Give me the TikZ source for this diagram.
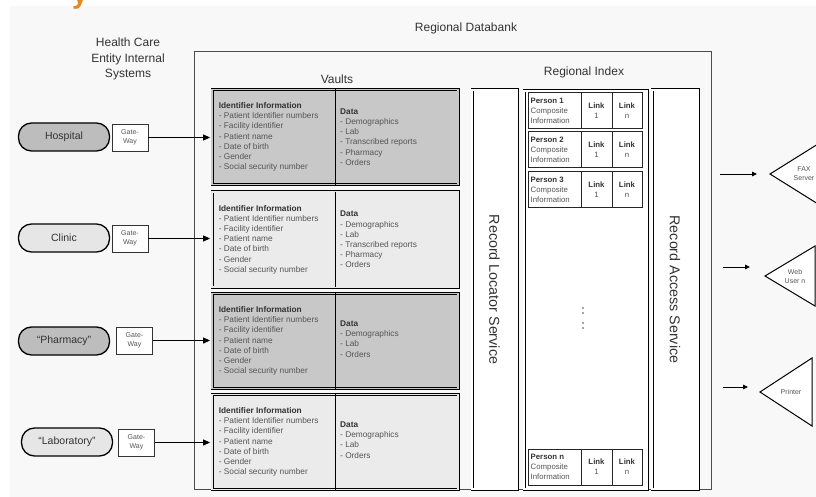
\documentclass[tikz,border=0pt]{standalone}
\usepackage{fontspec}
\setmainfont{Liberation Sans}
\usetikzlibrary{arrows.meta,calc}
\definecolor{bgc}{HTML}{F8F8F8}
\definecolor{vdark}{HTML}{C8C8C8}
\definecolor{vlight}{HTML}{EBEBEB}
\definecolor{odark}{HTML}{BDBDBD}
\definecolor{olight}{HTML}{E6E6E6}
\definecolor{txt}{HTML}{333333}
\definecolor{txtl}{HTML}{555555}
\definecolor{orng}{HTML}{E8891E}
\begin{document}
\begin{tikzpicture}[x=1pt,y=-1pt,
  dbl/.style={draw=black, line width=0.8pt, double distance=1.4pt},
  vault/.style={dbl, minimum width=246pt, minimum height=95pt, inner sep=0pt},
  oval/.style={draw=black, line width=1.3pt, rounded corners=13pt, minimum width=91pt, minimum height=28pt, font=\fontsize{10.5}{12}\selectfont, text=txt},
  gate/.style={draw=black!80, line width=0.6pt, fill=white, minimum width=36pt, minimum height=27pt, inner sep=0pt, align=center, font=\fontsize{7}{8.5}\selectfont, text=txtl},
  vtext/.style={anchor=west, align=left, font=\fontsize{8.3}{10.2}\selectfont, text=txtl, inner sep=0pt},
  head/.style={font=\fontsize{12}{15.5}\selectfont, text=txt, align=center},
  conn/.style={line width=1.1pt, -{Triangle[length=7pt,width=6pt]}, shorten >=1.5pt},
  sconn/.style={line width=0.9pt, -{Triangle[length=5pt,width=4.5pt]}},
  cell/.style={draw=black!85, line width=1pt, fill=white, inner sep=0pt},
  ctext/.style={font=\fontsize{7.8}{10}\selectfont, text=txtl, align=left, inner sep=0pt, anchor=west},
  ltext/.style={font=\fontsize{7.8}{10}\selectfont, text=txtl, align=center, inner sep=0pt},
  tri/.style={draw=black, line width=1pt, fill=white},
  ttext/.style={font=\fontsize{7}{9}\selectfont, text=txtl, align=center, inner sep=0pt},
  vert/.style={rotate=-90, font=\fontsize{14.3}{16}\selectfont, text=txt},
]
\useasboundingbox (0,0) rectangle (816,497);
\begin{scope}
\clip (0,0) rectangle (816,497);
\fill[bgc] (10,6) rectangle (816,497);
\node[text=orng, font=\fontsize{28}{28}\selectfont\bfseries, anchor=base] (ttl) at (80,4) {y};

% headings
\node[head] (hce) at (128,59) {Health Care\\Entity Internal\\Systems};
\node[head] (rdt) at (466,28) {Regional Databank};
\node[draw=black!70, line width=0.9pt, minimum width=517pt, minimum height=438pt, inner sep=0pt] (db) at (452.5,270) {};
\node[head] (vlt) at (337,79) {Vaults};
\node[head] (rit) at (584,72) {Regional Index};

% vaults
\node[vault, fill=vdark, double=vdark] (v1) at (335,137) {};
\node[vault, fill=vlight, double=vlight] (v2) at (335,239.5) {};
\node[vault, fill=vdark, double=vdark] (v3) at (335,341) {};
\node[vault, fill=vlight, double=vlight] (v4) at (335,442) {};
\foreach \v in {v1,v2,v3,v4}{
  \draw[line width=1pt] (\v.north) -- (\v.south);
  \node[vtext] (\v id) at ($(\v.west)+(7,0)$) {{\color{txt}\bfseries Identifier Information}\\- Patient Identifier numbers\\- Facility identifier\\- Patient name\\- Date of birth\\- Gender\\- Social security number};
}
\node[vtext] (v1d) at (340,137) {{\color{txt}\bfseries Data}\\- Demographics\\- Lab\\- Transcribed reports\\- Pharmacy\\- Orders};
\node[vtext] (v2d) at (340,239.5) {{\color{txt}\bfseries Data}\\- Demographics\\- Lab\\- Transcribed reports\\- Pharmacy\\- Orders};
\node[vtext] (v3d) at (340,339) {{\color{txt}\bfseries Data}\\- Demographics\\- Lab\\- Orders};
\node[vtext] (v4d) at (340,440) {{\color{txt}\bfseries Data}\\- Demographics\\- Lab\\- Orders};

% sources
\node[oval, fill=odark] (o1) at (64,137) {Hospital};
\node[oval, fill=olight] (o2) at (64,238) {Clinic};
\node[oval, fill=odark] (o3) at (64,341) {``Pharmacy''};
\node[oval, fill=olight] (o4) at (67,442) {``Laboratory''};
\node[gate] (g1) at (130,137.5) {Gate-\\Way};
\node[gate] (g2) at (130,238.5) {Gate-\\Way};
\node[gate] (g3) at (134.5,340.5) {Gate-\\Way};
\node[gate] (g4) at (136.5,442.5) {Gate-\\Way};
\draw[conn] (g1.east) -- (g1.east -| v1.west);
\draw[conn] (g2.east) -- (g2.east -| v2.west);
\draw[conn] (g3.east) -- (g3.east -| v3.west);
\draw[conn] (g4.east) -- (g4.east -| v4.west);

% record locator / access
\node[dbl, double=white, fill=white, minimum width=45pt, minimum height=399pt, inner sep=0pt] (rls) at (494.5,289.5) {};
\node[vert] (rlst) at (rls.center) {Record Locator Service};
\node[dbl, double=white, fill=white, minimum width=46pt, minimum height=399pt, inner sep=0pt] (ras) at (675,289.5) {};
\node[vert] (rast) at (ras.center) {Record Access Service};

% regional index
\node[dbl, double=white, fill=white, minimum width=123pt, minimum height=398pt, inner sep=0pt] (ri) at (585.5,290) {};
\foreach \i/\y/\p/\l in {1/111/Person 1/1, 2/150/Person 2/1, 3/189.5/Person 3/1, n/467/Person n/1}{
  \node[cell, minimum width=53pt, minimum height=36pt] (pc\i) at (554.5,\y) {};
  \node[cell, minimum width=31pt, minimum height=36pt] (la\i) at (596.5,\y) {};
  \node[cell, minimum width=30pt, minimum height=36pt] (lb\i) at (627,\y) {};
  \node[ctext] (pt\i) at ($(pc\i.west)+(3,0)$) {{\color{txt}\bfseries \p}\\Composite\\Information};
  \node[ltext] (lat\i) at (la\i.center) {{\color{txt}\bfseries Link}\\1};
  \node[ltext] (lbt\i) at (lb\i.center) {{\color{txt}\bfseries Link}\\n};
}
\foreach \yy in {308,313,323,328}{
  \fill[black!70] (583,\yy) circle (0.9);
}

% outputs
\coordinate (fa) at (720,174);
\coordinate (fb) at (757,174);
\draw[sconn] (fa) -- (fb);
\draw[tri] (770,174) -- (850,124) -- (850,224) -- cycle;
\node[ttext] (fax) at (804,174) {FAX\\Server};
\coordinate (wa) at (723,267);
\coordinate (wb) at (750,267);
\draw[sconn] (wa) -- (wb);
\draw[tri] (765,276) -- (815,246) -- (815,306) -- cycle;
\node[ttext] (web) at (795,276) {Web\\User n};
\coordinate (pa) at (723,387);
\coordinate (pb) at (748,387);
\draw[sconn] (pa) -- (pb);
\draw[tri] (760,392) -- (812,358) -- (812,426) -- cycle;
\node[ttext] (prn) at (791,392) {Printer};
\end{scope}
\end{tikzpicture}
\end{document}
